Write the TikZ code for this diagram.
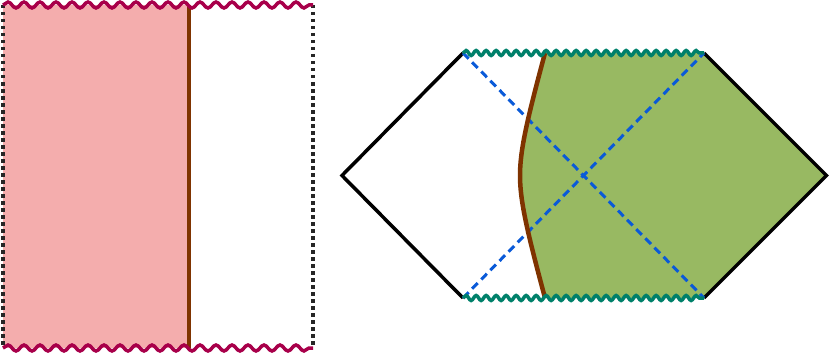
\documentclass[tikz,border=0pt]{standalone}
\usetikzlibrary{decorations.pathmorphing}
\definecolor{pinkfill}{HTML}{F4ADAD}
\definecolor{wavepurple}{HTML}{A8004A}
\definecolor{browncurve}{HTML}{7F3300}
\definecolor{greenfill}{HTML}{98B962}
\definecolor{wavteal}{HTML}{00806A}
\definecolor{dashblue}{HTML}{0A5AD8}
\tikzset{
  singwave/.style={draw=wavepurple, line width=3.5pt, decorate, decoration={snake, segment length=16pt, amplitude=3pt}},
  tealwave/.style={draw=wavteal, line width=3.5pt, decorate, decoration={snake, segment length=10pt, amplitude=2.5pt}},
  bdry/.style={draw=black!85, line width=3.5pt, dash pattern=on 3.5pt off 3.5pt},
  worldline/.style={draw=browncurve, line width=4.5pt},
  horizon/.style={draw=dashblue, line width=3pt, dash pattern=on 8pt off 5pt},
  edge/.style={draw=black, line width=3.5pt, line join=miter}
}
\begin{document}
\begin{tikzpicture}[x=1pt, y=-1pt]
\useasboundingbox (0,0) rectangle (830,353);
% left panel
\coordinate (LT) at (3,5);
\coordinate (RT) at (313,5);
\coordinate (LB) at (3,348);
\coordinate (RB) at (313,348);
\coordinate (BT) at (189,5);
\coordinate (BB) at (189,348);
\fill[pinkfill] (LT) rectangle (BB);
\path[bdry] (LT) -- (LB);
\path[bdry] (RT) -- (RB);
\path[worldline] (BT) -- (BB);
\path[singwave] (LT) -- (RT);
\path[singwave] (LB) -- (RB);
% right panel
\coordinate (W) at (342,175.5);
\coordinate (NW) at (463,53);
\coordinate (NE) at (704,53);
\coordinate (E) at (826.5,175.5);
\coordinate (SE) at (704,298);
\coordinate (SW) at (463,298);
\coordinate (CT) at (545,53);
\coordinate (CM) at (520,175.5);
\coordinate (CB) at (545,298);
\fill[greenfill] (CT) .. controls (527,120) and (520,150) .. (CM)
  .. controls (520,201) and (527,231) .. (CB) -- (SE) -- (E) -- (NE) -- cycle;
\path[edge] (NW) -- (W) -- (SW);
\path[edge] (NE) -- (E) -- (SE);
\path[horizon] (NW) -- (SE);
\path[horizon] (SW) -- (NE);
\path[worldline] (CT) .. controls (527,120) and (520,150) .. (CM)
  .. controls (520,201) and (527,231) .. (CB);
\path[tealwave] (NW) -- (NE);
\path[tealwave] (SW) -- (SE);
\end{tikzpicture}
\end{document}
